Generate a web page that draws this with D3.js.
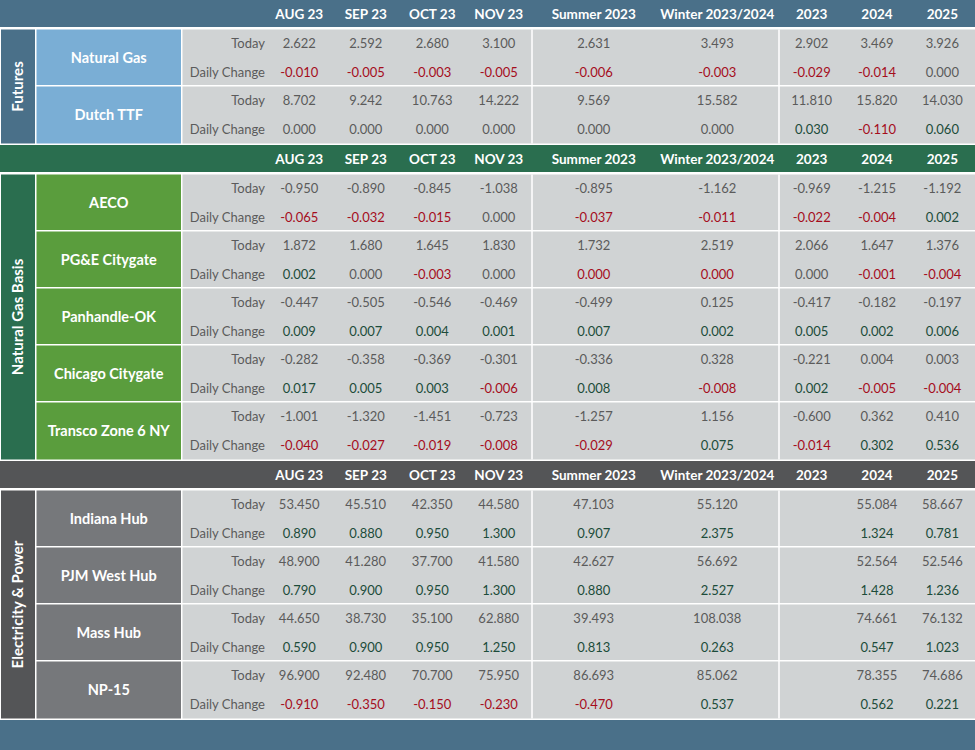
<!DOCTYPE html>
<html lang="en">
<meta charset="utf-8">
<head>
    <script src='https://d3js.org/d3.v7.min.js'></script>
</head>
<style>
	body { margin: 0; background: #fff; }
	svg text { font-family: Lato, "Noto Sans", sans-serif; }
</style>
<body>
<script>
// column headings
var months = ["AUG 23", "SEP 23", "OCT 23", "NOV 23"];
var seasons = ["Summer 2023", "Winter 2023/2024"];
var years = ["2023", "2024", "2025"];
var columns = months.concat(seasons, years);
var rowLabels = ["Today", "Daily Change"];

var sectionNames = ["Futures", "Natural Gas Basis", "Electricity & Power"];

// Futures
var futuresItems = ["Natural Gas", "Dutch TTF"];
var futuresToday = [
	[2.622, 2.592, 2.680, 3.100, 2.631, 3.493, 2.902, 3.469, 3.926],
	[8.702, 9.242, 10.763, 14.222, 9.569, 15.582, 11.810, 15.820, 14.030]
];
var futuresChange = [
	[-0.010, -0.005, -0.003, -0.005, -0.006, -0.003, -0.029, -0.014, 0.000],
	[0.000, 0.000, 0.000, 0.000, 0.000, 0.000, 0.030, -0.110, 0.060]
];

// Natural gas basis
var basisItems = ["AECO", "PG&E Citygate", "Panhandle-OK", "Chicago Citygate", "Transco Zone 6 NY"];
var basisToday = [
	[-0.950, -0.890, -0.845, -1.038, -0.895, -1.162, -0.969, -1.215, -1.192],
	[1.872, 1.680, 1.645, 1.830, 1.732, 2.519, 2.066, 1.647, 1.376],
	[-0.447, -0.505, -0.546, -0.469, -0.499, 0.125, -0.417, -0.182, -0.197],
	[-0.282, -0.358, -0.369, -0.301, -0.336, 0.328, -0.221, 0.004, 0.003],
	[-1.001, -1.320, -1.451, -0.723, -1.257, 1.156, -0.600, 0.362, 0.410]
];
var basisChange = [
	[-0.065, -0.032, -0.015, 0.000, -0.037, -0.011, -0.022, -0.004, 0.002],
	[0.002, 0.000, -0.003, 0.000, -0.0002, -0.0002, 0.000, -0.001, -0.004],
	[0.009, 0.007, 0.004, 0.001, 0.007, 0.002, 0.005, 0.002, 0.006],
	[0.017, 0.005, 0.003, -0.006, 0.008, -0.008, 0.002, -0.005, -0.004],
	[-0.040, -0.027, -0.019, -0.008, -0.029, 0.075, -0.014, 0.302, 0.536]
];

// Electricity & power (no 2023 strip)
var powerItems = ["Indiana Hub", "PJM West Hub", "Mass Hub", "NP-15"];
var powerToday = [
	[53.450, 45.510, 42.350, 44.580, 47.103, 55.120, null, 55.084, 58.667],
	[48.900, 41.280, 37.700, 41.580, 42.627, 56.692, null, 52.564, 52.546],
	[44.650, 38.730, 35.100, 62.880, 39.493, 108.038, null, 74.661, 76.132],
	[96.900, 92.480, 70.700, 75.950, 86.693, 85.062, null, 78.355, 74.686]
];
var powerChange = [
	[0.890, 0.880, 0.950, 1.300, 0.907, 2.375, null, 1.324, 0.781],
	[0.790, 0.900, 0.950, 1.300, 0.880, 2.527, null, 1.428, 1.236],
	[0.590, 0.900, 0.950, 1.250, 0.813, 0.263, null, 0.547, 1.023],
	[-0.910, -0.350, -0.150, -0.230, -0.470, 0.537, null, 0.562, 0.221]
];

var themes = [
	{ band: "#4a7089", name: "#7aaed5" },
	{ band: "#2a6e4f", name: "#5a9d3d" },
	{ band: "#545557", name: "#76787b" }
];

var sections = [
	{ items: futuresItems, today: futuresToday, change: futuresChange },
	{ items: basisItems, today: basisToday, change: basisChange },
	{ items: powerItems, today: powerToday, change: powerChange }
].map(function(s, i) {
	s.name = sectionNames[i];
	s.theme = themes[i];
	return s;
});

var width = 975, height = 750;
var headH = 27, itemH = 57, gapTop = 2.5, gapBot = 1.5, line = 1.5;
var stripX = [1, 35], nameX = [36.5, 181], dataX = 182.5, labelRight = 265;

var monthX = d3.scaleBand().domain(months).range([266, 532]);
var seasonX = d3.scaleBand().domain(seasons).range([532, 779]);
var yearX = d3.scaleBand().domain(years).range([779, width]);
function colX(c) {
	var s = months.indexOf(c) >= 0 ? monthX : seasons.indexOf(c) >= 0 ? seasonX : yearX;
	return s(c) + s.bandwidth() / 2;
}
var rowY = d3.scaleBand().domain(rowLabels).range([0, itemH]);

var fmt = d3.formatLocale({ decimal: ".", thousands: ",", grouping: [3], currency: ["$", ""], minus: "-" }).format(".3f");

var grey = "#5b5b5b", red = "#a50d1c", green = "#1c4c3a";

var svg = d3.select("body").append("svg")
	.attr("width", width)
	.attr("height", height);

svg.append("rect").attr("width", width).attr("height", height).attr("fill", "#fff");

var y0 = 0;
sections.forEach(function(sec) {
	// header band
	var head = svg.append("g").attr("transform", "translate(0," + y0 + ")");
	head.append("rect").attr("width", width).attr("height", headH).attr("fill", sec.theme.band);
	head.selectAll("text").data(columns).enter().append("text")
		.attr("x", colX)
		.attr("y", headH / 2 + 0.5)
		.attr("dy", "0.35em")
		.attr("text-anchor", "middle")
		.attr("fill", "#fff")
		.attr("font-weight", "bold")
		.attr("font-size", 13.5)
		.text(function(d) { return d; });

	var top = y0 + headH + gapTop;
	var n = sec.items.length;
	var itemY = d3.scaleBand().domain(d3.range(n)).range([top, top + n * itemH]);

	// section strip
	svg.append("rect")
		.attr("x", stripX[0]).attr("y", top)
		.attr("width", stripX[1] - stripX[0]).attr("height", n * itemH)
		.attr("fill", sec.theme.band);
	svg.append("text")
		.attr("transform", "translate(" + ((stripX[0] + stripX[1]) / 2) + "," + (top + n * itemH / 2) + ") rotate(-90)")
		.attr("dy", "0.35em")
		.attr("text-anchor", "middle")
		.attr("fill", "#fff")
		.attr("font-weight", "bold")
		.attr("font-size", 15)
		.text(sec.name);

	var item = svg.selectAll(null).data(sec.items).enter().append("g")
		.attr("transform", function(d, i) { return "translate(0," + itemY(i) + ")"; });
	var h = function(d, i) { return i < n - 1 ? itemH - line : itemH; };
	item.append("rect")
		.attr("x", nameX[0]).attr("width", nameX[1] - nameX[0])
		.attr("height", h)
		.attr("fill", sec.theme.name);
	item.append("rect")
		.attr("x", dataX).attr("width", width - dataX)
		.attr("height", h)
		.attr("fill", "#d0d3d4");
	item.append("text")
		.attr("x", (nameX[0] + nameX[1]) / 2)
		.attr("y", itemH / 2 - 0.5)
		.attr("dy", "0.35em")
		.attr("text-anchor", "middle")
		.attr("fill", "#fff")
		.attr("font-weight", "bold")
		.attr("font-size", 14.5)
		.text(function(d) { return d; });

	// row labels
	item.selectAll(".lab").data(rowLabels).enter().append("text")
		.attr("x", labelRight)
		.attr("y", function(d) { return rowY(d) + rowY.bandwidth() / 2; })
		.attr("dy", "0.35em")
		.attr("text-anchor", "end")
		.attr("fill", grey)
		.attr("font-size", 13)
		.text(function(d) { return d; });

	// values
	item.each(function(d, i) {
		var g = d3.select(this);
		var cells = [];
		columns.forEach(function(c, j) {
			if (sec.today[i][j] != null) cells.push({ col: c, row: "Today", v: sec.today[i][j] });
			if (sec.change[i][j] != null) cells.push({ col: c, row: "Daily Change", v: sec.change[i][j] });
		});
		g.selectAll(".val").data(cells).enter().append("text")
			.attr("x", function(c) { return colX(c.col); })
			.attr("y", function(c) { return rowY(c.row) + rowY.bandwidth() / 2; })
			.attr("dy", "0.35em")
			.attr("text-anchor", "middle")
			.attr("font-size", 13)
			.attr("fill", function(c) {
				if (c.row == "Today" || c.v == 0) return grey;
				return c.v < 0 ? red : green;
			})
			.text(function(c) { return fmt(c.v); });
	});

	// white dividers between column groups
	[532, 779].forEach(function(x) {
		svg.append("rect")
			.attr("x", x - line / 2).attr("y", top)
			.attr("width", line).attr("height", n * itemH)
			.attr("fill", "#fff");
	});

	y0 = top + n * itemH + gapBot;
});

svg.append("rect")
	.attr("y", y0).attr("width", width).attr("height", height - y0)
	.attr("fill", themes[0].band);
</script>
</body>
</html>
